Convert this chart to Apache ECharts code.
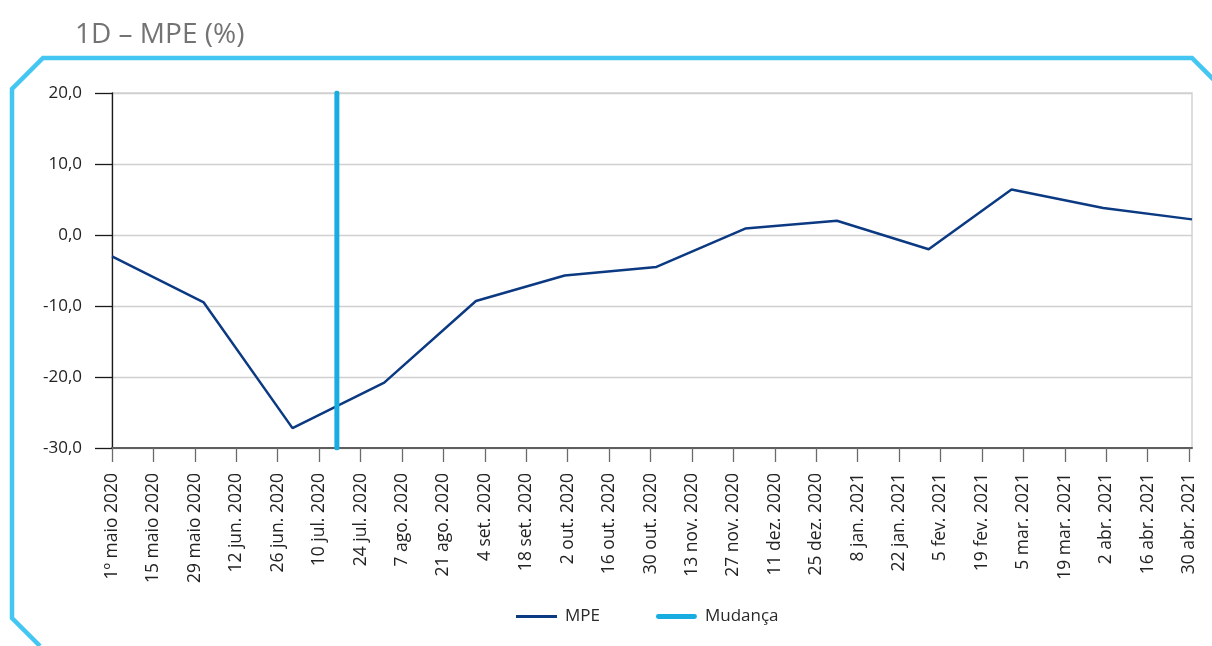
<!DOCTYPE html>
<html>
<head>
<meta charset="utf-8">
<script src="https://cdn.jsdelivr.net/npm/echarts@6/dist/echarts.min.js"></script>
<style>
  html, body { margin: 0; padding: 0; background: #fff; }
  #chart { width: 1212px; height: 646px; }
</style>
</head>
<body>
<div id="chart"></div>
<script>
// MPE monthly values (%)
const mpeDates = ["2020-05-01", "2020-06-01", "2020-07-01", "2020-08-01", "2020-09-01", "2020-10-01",
  "2020-11-01", "2020-12-01", "2021-01-01", "2021-02-01", "2021-03-01", "2021-04-01", "2021-05-01"];
const mpeValues = [-3.0, -9.5, -27.2, -20.8, -9.3, -5.7, -4.5, 0.9, 2.0, -2.0, 6.4, 3.8, 2.2];

// vertical marker "Mudança"
const changeDates = ["2020-07-16", "2020-07-16"];
const changeValues = [20, -30];

// x tick labels, one every 14 days from 1 May 2020
const tickLabels = ["1º maio 2020", "15 maio 2020", "29 maio 2020", "12 jun. 2020", "26 jun. 2020",
  "10 jul. 2020", "24 jul. 2020", "7 ago. 2020", "21 ago. 2020", "4 set. 2020", "18 set. 2020",
  "2 out. 2020", "16 out. 2020", "30 out. 2020", "13 nov. 2020", "27 nov. 2020", "11 dez. 2020",
  "25 dez. 2020", "8 jan. 2021", "22 jan. 2021", "5 fev. 2021", "19 fev. 2021", "5 mar. 2021",
  "19 mar. 2021", "2 abr. 2021", "16 abr. 2021", "30 abr. 2021"];

const startDate = "2020-05-01";
const endDate = "2021-05-01";

// days since 1 May 2020
function dayIndex(s) {
  return Math.round((Date.parse(s + "T00:00:00Z") - Date.parse(startDate + "T00:00:00Z")) / 86400000);
}

const font = "'Open Sans', 'Noto Sans', sans-serif";
const navy = "#0c3a82";
const cyan = "#17ade0";

document.addEventListener("DOMContentLoaded", function () {
  const chart = echarts.init(document.getElementById("chart"));

  const option = {
    animation: false,
    title: {
      text: "1D – MPE (%)",
      left: 70,
      top: 16,
      textStyle: { color: "#737373", fontSize: 28, fontWeight: "normal", fontFamily: font }
    },
    legend: {
      bottom: 16,
      left: 511,
      itemWidth: 41,
      itemHeight: 5,
      itemGap: 56,
      textStyle: { color: "#2a2a2a", fontSize: 17, fontFamily: font, padding: [0, 0, 0, 3] },
      data: [
        { name: "MPE", icon: "path://M0,0H42V3H0Z", itemStyle: { color: navy } },
        {
          name: "Mudança",
          icon: "path://M2.5,0H39.5A2.5,2.5,0,0,1,39.5,5H2.5A2.5,2.5,0,0,1,2.5,0Z",
          itemStyle: { color: cyan }
        }
      ]
    },
    grid: {
      left: 112,
      right: 20,
      top: 93,
      bottom: 198,
      show: true,
      borderColor: "#d4d4d4",
      borderWidth: 1.5
    },
    xAxis: {
      type: "value",
      min: 0,
      max: dayIndex(endDate),
      interval: 14,
      axisLine: { onZero: false, lineStyle: { color: "#5e5e5e", width: 2 } },
      axisTick: {
        show: true,
        length: 14,
        lineStyle: { color: "#6a6a6a", width: 1.3 }
      },
      axisLabel: {
        rotate: 90,
        margin: 25,
        color: "#222",
        fontSize: 17.5,
        fontFamily: font,
        showMaxLabel: false,
        formatter: function (v) {
          return v % 14 === 0 ? (tickLabels[v / 14] || "") : "";
        }
      },
      splitLine: { show: false }
    },
    yAxis: {
      type: "value",
      min: -30,
      max: 20,
      interval: 10,
      axisLine: { show: true, onZero: false, lineStyle: { color: "#1a1a1a", width: 1.3 } },
      axisTick: { show: true, length: 17, lineStyle: { color: "#1a1a1a", width: 1.3 } },
      axisLabel: {
        margin: 30,
        color: "#222",
        fontSize: 17,
        fontFamily: font,
        formatter: function (v) { return v.toFixed(1).replace(".", ","); }
      },
      splitLine: { lineStyle: { color: "#d0d0d0", width: 1.3 } }
    },
    series: [
      {
        name: "MPE",
        type: "line",
        symbol: "none",
        data: mpeDates.map(function (d, i) { return [dayIndex(d), mpeValues[i]]; }),
        lineStyle: { color: navy, width: 2.5 },
        itemStyle: { color: navy },
        z: 3
      },
      {
        name: "Mudança",
        type: "line",
        symbol: "none",
        data: changeDates.map(function (d, i) { return [dayIndex(d), changeValues[i]]; }),
        lineStyle: { color: cyan, width: 5, cap: "round" },
        itemStyle: { color: cyan },
        z: 4
      }
    ],
    graphic: [
      {
        type: "polyline",
        shape: {
          points: [[40, 646], [12, 618], [12, 89], [43, 58], [1192, 58], [1214, 80]]
        },
        style: { stroke: "#43c7f2", lineWidth: 4.5, fill: null }
      }
    ]
  };

  chart.setOption(option);
  window.addEventListener("resize", function () {
    chart.resize();
  });
});
</script>
</body>
</html>
